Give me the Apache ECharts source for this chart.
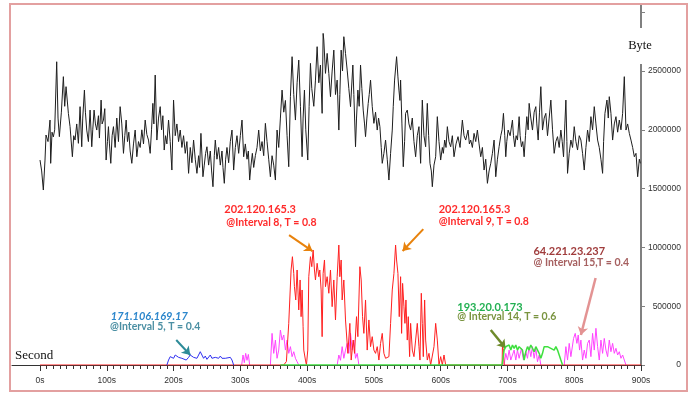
<!DOCTYPE html>
<html>
<head>
<meta charset="utf-8">
<script src="https://cdn.jsdelivr.net/npm/echarts@6.0.0/dist/echarts.min.js"></script>
<style>
  html, body { margin: 0; padding: 0; background: #fff; }
  #chart { width: 696px; height: 394px; }
</style>
</head>
<body>
<div id="chart"></div>
<script>
// [second, kilobytes]
const totalTraffic = [[0,1743],[2.5,1650],[5,1488],[7.5,1743],[9,1956],[12,1900],[15,2083],[16,1715],[18,1980],[20,1940],[22,2000],[25,2579],[27,2100],[29,1942],[32,2150],[35,2452],[37,2200],[39,2367],[42.5,2140],[45,2027],[48.5,1771],[50.5,1950],[52.5,1913],[55,2050],[57.5,1885],[60,2197],[62.5,1856],[64,2100],[66.5,2338],[68,2150],[70,1998],[72.5,1900],[75,2168],[77.5,1856],[79,2000],[81,2168],[83,2050],[85,1998],[87.5,2120],[89,1930],[91.5,2253],[93,2050],[95,2083],[97,2180],[99,1743],[101,1900],[102.5,2027],[104,1880],[106,1715],[108,1950],[110,2027],[112.5,1850],[115,2100],[117.5,1900],[120,2197],[122.5,2050],[125,1800],[127,1950],[129,2083],[131,1900],[133,1980],[135,1820],[137.5,1715],[140,1880],[142.5,1998],[145,1771],[147.5,1900],[150,1850],[152.5,2000],[155,1880],[157.5,2083],[160,1960],[162.5,1913],[165,1800],[167,2000],[169,2225],[170.5,2050],[172.5,2466],[175,1913],[177.5,2100],[180,2197],[182,2000],[184,2120],[186,1828],[188,1950],[190,1880],[192.5,2083],[195,1900],[197.5,1658],[200,2253],[202.5,1950],[205,2050],[207.5,1900],[210,1998],[212.5,1850],[215,1950],[217.5,1800],[220,1900],[222.5,1630],[225,1850],[227.5,1720],[230,1913],[232.5,1750],[235,1630],[237.5,1780],[239,1680],[241,1970],[244,1601],[246,1700],[248,1800],[250,1856],[252.5,1700],[255,1820],[257,1650],[259,1516],[261,1780],[262.5,1913],[265,1750],[267.5,1850],[270,1700],[272.5,1820],[274,1680],[276,1545],[278,1750],[280,1850],[282.5,1720],[285,1900],[287.5,1998],[290,1658],[292.5,1850],[295,1950],[297.5,1800],[300,1950],[302.5,2083],[305,1771],[307.5,1880],[310,1750],[312,1820],[314,1573],[316,1700],[318,1800],[320,1680],[322.5,1780],[325,1850],[327.5,1998],[330,1820],[332.5,1900],[335,1780],[337.5,2055],[340,1900],[342.5,1750],[345,1601],[347.5,1780],[350,1700],[352.5,1573],[355,1998],[357.5,1850],[360,2100],[362.5,2338],[365,2150],[367.5,2250],[370,1950],[372.5,1686],[375,2282],[377.5,2622],[380,2300],[382.5,2083],[385,2400],[387.5,2593],[390,2200],[392.5,1771],[394,2100],[396,2338],[398,2000],[401,1743],[403,2200],[405,2565],[407,2350],[410,2200],[412.5,2423],[415,2707],[417.5,2400],[420,2551],[422.5,2140],[424,2820],[425,2764],[427.5,2480],[430,2650],[432.5,2480],[435,2282],[437.5,2500],[440,2678],[442.5,2300],[445,2423],[447.5,1998],[449,2300],[451,2678],[453,2500],[455,2792],[457.5,2650],[460,2508],[462.5,2350],[465,2197],[468.5,2551],[470,2300],[472.5,1856],[474,2100],[476,2338],[478,2200],[480,2551],[482,2350],[484,2168],[486,2050],[487.5,1942],[489.5,2100],[491.5,2225],[493,2300],[495,2423],[497.5,2200],[500,2055],[502.5,2150],[505,1998],[507,2100],[509,2027],[511,1850],[512.5,1715],[515,1800],[517.5,1913],[520,1750],[522.5,1573],[525,1800],[527.5,1998],[529,2200],[531,2423],[534,2622],[536,2450],[537.5,2338],[539,2250],[540,2423],[542,2050],[544,1686],[546,1900],[547.5,2140],[550,2168],[552.5,2050],[555,1998],[557.5,2100],[560,1900],[562.5,1771],[565,1950],[567.5,2027],[570,1715],[572.5,2253],[575,1950],[577.5,1856],[580,2225],[582,1950],[584,1715],[586,1650],[587.5,1516],[590,1700],[592.5,1771],[595,2112],[597.5,1900],[600,1743],[602.5,1850],[604,1800],[606,1913],[608,1850],[610,2027],[612.5,1900],[615,1856],[617.5,1950],[620,1771],[623,1880],[626,1942],[629,1850],[632.5,2083],[635,1950],[637.5,1913],[641,1998],[643,1880],[645,1913],[647.5,1850],[650,1970],[652.5,1900],[655,1998],[657.5,1880],[660,1771],[662.5,1850],[665,1658],[667.5,1750],[670,1545],[672.5,1650],[675,1715],[677.5,1800],[680,1913],[682.5,1601],[685,1750],[687.5,1856],[690,1950],[692,2000],[694,2140],[696,1950],[697.5,1771],[699,1900],[701,1998],[704,1950],[707.5,2083],[709,1950],[711,1856],[713,1950],[715,1913],[717.5,2112],[719,1950],[721,1856],[723,1900],[725,1771],[727,1950],[729,2112],[731,2000],[732.5,2225],[735,2100],[737.5,1998],[740,2150],[742.5,2197],[744,2050],[746,1913],[748,2150],[750,2367],[752.5,1998],[755,2100],[757.5,2140],[760,1950],[762.5,2100],[765,2253],[767.5,2000],[770,1800],[772.5,1900],[775,1942],[777.5,1850],[780,1998],[782,1900],[784,1771],[786,2050],[787.5,2253],[789,1900],[790,1630],[792.5,1800],[795,1913],[797.5,1850],[800,2027],[802.5,1900],[805,1828],[807.5,1950],[810,1913],[812.5,1800],[815,1658],[817.5,1850],[820,1998],[822.5,1900],[825,2112],[827.5,2000],[830,2197],[832.5,2050],[835,1913],[837.5,1850],[840,1750],[842.5,1630],[844,1900],[846,2140],[849,2253],[851,2100],[852.5,2282],[855,2140],[857.5,1913],[860,2050],[862.5,2112],[865,1980],[867.5,2083],[870,2000],[872.5,2140],[875,2452],[877.5,1998],[880,2050],[882.5,1970],[885,1913],[887.5,1850],[890,1771],[892.5,1800],[895,1601],[897.5,1750],[899,1715]];

// 202.120.165.3
const redHost = [[0,0],[365,0],[369,30],[372.5,354],[376,808],[378,921],[380,779],[381,666],[383,553],[385,808],[387.5,468],[389.5,723],[391,411],[392.5,638],[394,326],[395,127],[397.5,42],[399,0],[401,127],[402.5,751],[405,921],[407,836],[409,978],[411,808],[412.5,723],[415,865],[417.5,751],[419,808],[421,638],[422.5,241],[424,779],[426,893],[427.5,666],[430,751],[432.5,610],[435,808],[437.5,496],[440,723],[442.5,383],[445,751],[447.5,1020],[449,751],[451,893],[452.5,553],[455,723],[457.5,383],[461,99],[464,354],[466,42],[469,212],[471,99],[474,411],[476,241],[479,836],[481,723],[483,411],[485,269],[487.5,553],[490,127],[492.5,383],[495,156],[497.5,241],[500,127],[502.5,99],[505,156],[507.5,42],[510,184],[512.5,269],[515,99],[517.5,57],[520,42],[522.5,71],[525,354],[527.5,638],[530,779],[532.5,1020],[534,893],[536,779],[538,411],[540,751],[541.5,269],[543,694],[545,496],[546.5,354],[548,553],[550,212],[551.5,411],[553.5,71],[555,354],[557.5,127],[560,71],[562.5,212],[565,354],[567.5,156],[569,42],[571,610],[572.5,354],[574,71],[576,553],[577.5,212],[580,42],[582.5,99],[585,0],[590,156],[592.5,354],[595,212],[597.5,0],[600,71],[602.5,0],[605,85],[607.5,0],[692,0],[692.5,156],[694,127],[695,0],[900,0]];

// magenta bursts
const pinkBurst1 = [[302,0],[304,85],[306,20],[308,99],[310,40],[312,90],[314,0]];
const pinkBurst2 = [[345,0],[347.5,269],[350,99],[352.5,212],[355,57],[357.5,127],[360,297],[362.5,212],[365,255],[367.5,127],[370,212],[372.5,99],[375,156],[377.5,71],[380,113],[382.5,57],[385,28],[387.5,0]];
const pinkBurst3 = [[445,0],[447.5,85],[450,40],[452.5,156],[455,57],[457.5,127],[460,184],[462.5,99],[465,270],[467.5,127],[470,212],[472.5,57],[475,99],[477.5,0]];
const pinkBurst4 = [[695,0],[697.5,99],[700,42],[702.5,127],[705,42],[707.5,85],[710,127],[712.5,42],[715,127],[717.5,57],[721,142],[724,42],[727.5,113],[730,57],[732.5,156],[735,71],[737.5,156],[740,57],[742.5,142],[745,28],[747.5,85],[750,0]];
const pinkBurst5 = [[785,0],[787.5,156],[790,42],[792.5,184],[795,71],[799,226],[801.5,269],[804,184],[806,255],[808,127],[810,212],[812.5,42],[815,127],[817.5,57],[820,184],[822.5,212],[825,71],[827.5,269],[830,127],[832.5,312],[835,156],[837.5,42],[840,212],[842.5,99],[845,226],[847.5,127],[850,71],[852.5,212],[855,113],[857.5,184],[860,99],[862.5,142],[865,85],[867.5,113],[870,57],[872.5,85],[875,42],[877.5,0]];

// 171.106.169.17
const blueHost = [[190,0],[192.5,42],[195,71],[200,57],[202.5,85],[205,71],[207.5,65],[210,76],[212.5,57],[215,71],[219,42],[222.5,65],[225,85],[227.5,99],[230,65],[232.5,76],[235,57],[237.5,85],[240,113],[242.5,85],[245,57],[247.5,76],[250,48],[252.5,65],[255,85],[257.5,57],[260,71],[262.5,65],[265,76],[267.5,57],[270,76],[272.5,57],[275,65],[277.5,57],[280,71],[285,65],[287.5,42],[290,0]];

// 193.20.0.173
const greenHost = [[360,0],[692,0],[695,127],[697.5,156],[700,142],[702.5,170],[705,127],[707.5,170],[710,142],[712.5,170],[715,127],[717.5,156],[720,170],[722.5,127],[725,42],[727.5,113],[730,156],[732.5,127],[735,170],[737.5,156],[740,113],[742.5,156],[745,170],[747.5,99],[750,57],[752.5,99],[755,156],[757.5,142],[760,156],[762.5,170],[765,142],[767.5,156],[770,127],[772.5,156],[775,127],[777.5,85],[780,42],[782.5,0]];

// annotation anchors in [second, bytes]
const noteLines = [
  { at: [106, 416000], text: '171.106.169.17', color: '#2d87cc', font: 'italic bold 11px Lato' },
  { at: [105, 323000], text: '@Interval 5, T = 0.4', color: '#4b8fa3', font: 'bold 10.5px Lato' },
  { at: [276, 1326000], text: '202.120.165.3', color: '#ff2b2b', font: 'bold 11px Lato' },
  { at: [279, 1207000], text: '@Interval 8, T = 0.8', color: '#ff2b2b', font: 'bold 10.5px Lato' },
  { at: [597, 1326000], text: '202.120.165.3', color: '#ff2b2b', font: 'bold 11px Lato' },
  { at: [597, 1216000], text: '@Interval 9, T = 0.8', color: '#ff2b2b', font: 'bold 10.5px Lato' },
  { at: [739, 969000], text: '64.221.23.237', color: '#a03c3c', font: 'bold 11px Lato' },
  { at: [739, 867000], text: '@ Interval 15,T = 0.4', color: '#a66060', font: 'bold 10.5px Lato' },
  { at: [625, 493000], text: '193.20.0.173', color: '#22b052', font: 'bold 11px Lato' },
  { at: [625, 408000], text: '@ Interval 14, T = 0.6', color: '#7a9440', font: 'bold 10.5px Lato' }
];
const noteArrows = [
  { from: [204, 213000], to: [225, 85000], color: '#2d8b98', width: 2 },
  { from: [373, 1105000], to: [408, 969000], color: '#e8820c', width: 2 },
  { from: [574, 1156000], to: [543, 969000], color: '#e8820c', width: 2 },
  { from: [832, 740000], to: [810, 255000], color: '#e39393', width: 2.5 },
  { from: [675, 298000], to: [697, 145000], color: '#6e8a2a', width: 2.5 }
];

const kb = pts => pts.map(p => [p[0], p[1] * 1000]);

function lineSeries(name, data, color, width, z) {
  return {
    name: name,
    type: 'line',
    data: kb(data),
    xAxisIndex: 0,
    yAxisIndex: 0,
    showSymbol: false,
    symbol: 'none',
    silent: true,
    z: z,
    lineStyle: { color: color, width: width },
    itemStyle: { color: color }
  };
}

const chart = echarts.init(document.getElementById('chart'), null, { renderer: 'canvas' });

const total = lineSeries('total', totalTraffic, '#1e1e1e', 1, 2);
total.markLine = {
  silent: true,
  symbol: ['none', 'arrow'],
  symbolSize: 8,
  label: { show: false },
  emphasis: { disabled: true },
  data: noteArrows.map(a => [
    { coord: a.from, lineStyle: { color: a.color, width: a.width, type: 'solid' } },
    { coord: a.to }
  ])
};

const pinkColor = '#ff44ff';

chart.setOption({
  animation: false,
  grid: [
    { left: 40, right: 55, top: 4, bottom: 29 },
    { left: 12, right: 55, top: 4, bottom: 29 }
  ],
  xAxis: [
    {
      type: 'value',
      gridIndex: 0,
      min: 0,
      max: 900,
      interval: 100,
      axisLine: { show: true, onZero: false, lineStyle: { color: '#333', width: 1 } },
      axisTick: { show: true, length: 6, lineStyle: { color: '#333' } },
      minorTick: { show: true, splitNumber: 10, length: 4, lineStyle: { color: '#333' } },
      splitLine: { show: false },
      axisLabel: {
        margin: 11,
        fontSize: 8.5,
        color: '#333',
        fontFamily: 'Liberation Sans',
        formatter: '{value}s'
      }
    },
    {
      type: 'value',
      gridIndex: 1,
      min: -42,
      max: 900,
      axisLine: { show: true, onZero: false, lineStyle: { color: '#333', width: 1 } },
      axisTick: { show: false },
      axisLabel: { show: false },
      splitLine: { show: false }
    }
  ],
  yAxis: [
    {
      type: 'value',
      gridIndex: 0,
      position: 'right',
      min: 0,
      max: 3070000,
      interval: 500000,
      axisLine: { show: true, onZero: false, lineStyle: { color: '#808080', width: 2 } },
      axisTick: { show: true, length: 4, lineStyle: { color: '#808080', width: 1 } },
      splitLine: { show: false },
      axisLabel: {
        align: 'right',
        margin: 40,
        fontSize: 8.5,
        color: '#333',
        fontFamily: 'Liberation Sans',
        formatter: v => (v >= 3000000 ? '' : String(v))
      }
    },
    { type: 'value', gridIndex: 1, show: false, min: 0, max: 3070000 }
  ],
  series: [
    total,
    lineSeries('pink1', pinkBurst1, pinkColor, 1, 3),
    lineSeries('pink2', pinkBurst2, pinkColor, 1, 3),
    lineSeries('pink3', pinkBurst3, pinkColor, 1, 3),
    lineSeries('pink4', pinkBurst4, pinkColor, 1, 3),
    lineSeries('pink5', pinkBurst5, pinkColor, 1, 3),
    lineSeries('red', redHost, '#ff2020', 1, 4),
    lineSeries('blue', blueHost, '#3030f0', 1, 5),
    lineSeries('green', greenHost, '#3ee03e', 1.5, 6)
  ]
});

// annotation text and frame, placed through the chart's own scales
const graphics = noteLines.map(n => {
  const p = chart.convertToPixel({ gridIndex: 0 }, n.at);
  return {
    type: 'text',
    x: p[0],
    y: p[1],
    silent: true,
    z: 20,
    style: { text: n.text, fill: n.color, font: n.font, align: 'left', verticalAlign: 'middle' }
  };
});

graphics.push(
  {
    type: 'text', x: 640, y: 46, z: 20, silent: true,
    style: {
      text: 'Byte', fill: '#111', font: '12.5px "Liberation Serif"',
      align: 'center', verticalAlign: 'middle',
      backgroundColor: '#fff', padding: [9, 2, 14, 2]
    }
  },
  {
    type: 'text', x: 15, y: 356, z: 20, silent: true,
    style: { text: 'Second', fill: '#111', font: '13px "Liberation Serif"', align: 'left', verticalAlign: 'middle' }
  },
  {
    type: 'rect', z: 30, silent: true,
    shape: { x: 10, y: 4, width: 677, height: 387 },
    style: { fill: null, stroke: '#e3a0a0', lineWidth: 2 }
  }
);

chart.setOption({ graphic: graphics });
</script>
</body>
</html>
